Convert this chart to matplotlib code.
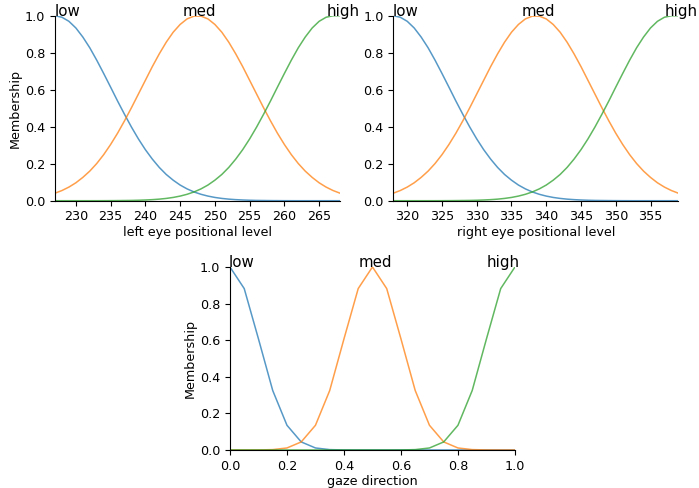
import matplotlib
matplotlib.use("Agg")
import matplotlib.pyplot as plt

# ---------------- data ----------------
left_x = list(range(227, 269))  # 227 .. 268
left_low = [1.000, 0.992, 0.970, 0.934, 0.885, 0.827, 0.760, 0.688, 0.614, 0.539,
            0.467, 0.398, 0.334, 0.276, 0.225, 0.180, 0.142, 0.111, 0.0847, 0.0639,
            0.0474, 0.0347, 0.0250, 0.0177, 0.0124, 0.0085, 0.0058, 0.0039, 0.0025, 0.0016,
            0.0011, 0.0007, 0.0004, 0.0002, 0.0001, 0.0, 0.0, 0.0, 0.0, 0.0,
            0.0, 0.0]
left_med = [0.0407, 0.0551, 0.0737, 0.0969, 0.126, 0.160, 0.201, 0.249, 0.304, 0.365,
            0.432, 0.503, 0.577, 0.651, 0.725, 0.794, 0.857, 0.911, 0.953, 0.983,
            0.998, 0.998, 0.983, 0.953, 0.911, 0.857, 0.794, 0.725, 0.651, 0.577,
            0.503, 0.432, 0.365, 0.304, 0.249, 0.201, 0.160, 0.126, 0.0969, 0.0737,
            0.0551, 0.0407]
left_high = [0.0, 0.0, 0.0, 0.0, 0.0, 0.0, 0.0001, 0.0002, 0.0004, 0.0007,
             0.0011, 0.0016, 0.0025, 0.0039, 0.0058, 0.0085, 0.0124, 0.0177, 0.0250, 0.0347,
             0.0474, 0.0639, 0.0847, 0.111, 0.142, 0.180, 0.225, 0.276, 0.334, 0.398,
             0.467, 0.539, 0.614, 0.688, 0.760, 0.827, 0.885, 0.934, 0.970, 0.992,
             1.000, 1.000]

right_x = list(range(318, 360))  # 318 .. 359
right_low = list(left_low)
right_med = list(left_med)
right_high = list(left_high)

gaze_x = [0.00, 0.05, 0.10, 0.15, 0.20, 0.25, 0.30, 0.35, 0.40, 0.45, 0.50,
          0.55, 0.60, 0.65, 0.70, 0.75, 0.80, 0.85, 0.90, 0.95, 1.00]
gaze_low = [1.000, 0.882, 0.607, 0.325, 0.135, 0.044, 0.011, 0.002, 0.0003, 0.0, 0.0,
            0.0, 0.0, 0.0, 0.0, 0.0, 0.0, 0.0, 0.0, 0.0, 0.0]
gaze_med = [0.0, 0.0, 0.0003, 0.002, 0.011, 0.044, 0.135, 0.325, 0.607, 0.882, 1.000,
            0.882, 0.607, 0.325, 0.135, 0.044, 0.011, 0.002, 0.0003, 0.0, 0.0]
gaze_high = [0.0, 0.0, 0.0, 0.0, 0.0, 0.0, 0.0, 0.0, 0.0, 0.0, 0.0,
             0.0, 0.0003, 0.002, 0.011, 0.044, 0.135, 0.325, 0.607, 0.882, 1.000]

term_names = ["low", "med", "high"]
left_label_x = [228.8, 247.7, 268.4]
right_label_x = [319.8, 338.8, 359.4]
gaze_label_x = [0.042, 0.509, 0.958]

xlabels = ["left eye positional level", "right eye positional level", "gaze direction"]
left_ticks = [230, 235, 240, 245, 250, 255, 260, 265]
right_ticks = [320, 325, 330, 335, 340, 345, 350, 355]
gaze_ticks = [0.0, 0.2, 0.4, 0.6, 0.8, 1.0]
y_ticks = [0.0, 0.2, 0.4, 0.6, 0.8, 1.0]

colors = ["#1f77b4", "#ff7f0e", "#2ca02c"]

# ---------------- figure ----------------
fig = plt.figure(figsize=(6.99, 4.88), dpi=100)
ax1 = fig.add_axes([0.0787, 0.5887, 0.4077, 0.379])
ax2 = fig.add_axes([0.5627, 0.5887, 0.4077, 0.379])
ax3 = fig.add_axes([0.3290, 0.0779, 0.4077, 0.375])

panels = [
    (ax1, left_x, [left_low, left_med, left_high], left_label_x, left_ticks, xlabels[0], True),
    (ax2, right_x, [right_low, right_med, right_high], right_label_x, right_ticks, xlabels[1], False),
    (ax3, gaze_x, [gaze_low, gaze_med, gaze_high], gaze_label_x, gaze_ticks, xlabels[2], True),
]

for ax, xs, series, lab_x, xt, xl, show_ylabel in panels:
    for ys, c in zip(series, colors):
        ax.plot(xs, ys, color=c, lw=1.1, alpha=0.75)
    for name, lx in zip(term_names, lab_x):
        ax.text(lx, 1.0, name, ha="center", va="baseline", fontsize=10.8)
    ax.set_xlim(xs[0], xs[-1])
    ax.set_ylim(0, 1.0)
    ax.set_xticks(xt)
    ax.set_yticks(y_ticks)
    ax.tick_params(labelsize=9.2)
    ax.set_xlabel(xl, fontsize=9.2, labelpad=2)
    if show_ylabel:
        ax.set_ylabel("Membership", fontsize=9.2, labelpad=2)
    ax.spines["top"].set_visible(False)
    ax.spines["right"].set_visible(False)

fig.savefig("out.png", dpi=100)
